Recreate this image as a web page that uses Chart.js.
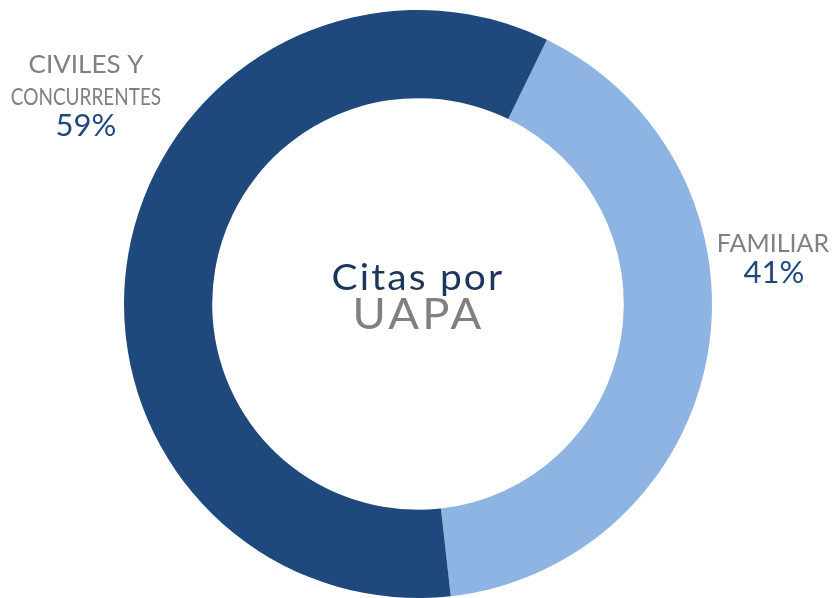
<!DOCTYPE html>
<html>
<head>
<meta charset="utf-8">
<title>Citas por UAPA</title>
<script src="https://cdn.jsdelivr.net/npm/chart.js@4.4.1/dist/chart.umd.min.js"></script>
<style>
  html, body { margin: 0; padding: 0; background: #fff; }
  #wrap { width: 836px; height: 598px; }
</style>
</head>
<body>
<div id="wrap"><canvas id="chart-uapa" width="836" height="598"></canvas></div>
<script>
// ─── Data ─────────────────────────────────────────────────────────────────────
const categories = ['FAMILIAR', 'CIVILES Y CONCURRENTES'];
const shares = [41, 59];
const sliceColors = ['#8EB4E3', '#1F497D'];
const centerTitle = ['Citas por', 'UAPA'];

const FONT = 'Lato, "Open Sans", sans-serif';

// draw text stretched horizontally (the original font is wider than Lato)
function wideText(ctx, txt, x, y, sx, spacing = 0) {
  ctx.save();
  ctx.translate(x + spacing / 2, y);
  ctx.scale(sx, 1);
  ctx.letterSpacing = spacing + 'px';
  ctx.fillText(txt, 0, 0);
  ctx.restore();
}

// labels + center title drawn on top of the doughnut
const labelsPlugin = {
  id: 'uapaLabels',
  afterDraw(chart) {
    const ctx = chart.ctx;
    const c = chart.getDatasetMeta(0).data[0];
    const cx = c.x, cy = c.y;
    ctx.save();
    ctx.textAlign = 'center';
    ctx.textBaseline = 'alphabetic';

    // center title
    ctx.fillStyle = '#1B365D';
    ctx.font = `36px ${FONT}`;
    wideText(ctx, centerTitle[0], cx - 1, cy - 14, 1.08, 2);
    ctx.fillStyle = '#808080';
    ctx.font = `42px ${FONT}`;
    wideText(ctx, centerTitle[1], cx - 1, cy + 25, 1.08, 3);

    // Civiles y concurrentes (left top)
    ctx.fillStyle = '#808080';
    ctx.font = `25px ${FONT}`;
    wideText(ctx, 'CIVILES Y', 86, 73, 1.04);
    ctx.font = `24px ${FONT}`;
    wideText(ctx, 'CONCURRENTES', 86, 105, 0.79);
    ctx.fillStyle = '#1F497D';
    ctx.font = `31px ${FONT}`;
    ctx.fillText(shares[1] + '%', 86, 136);

    // Familiar (right)
    ctx.fillStyle = '#808080';
    ctx.font = `25px ${FONT}`;
    ctx.fillText(categories[0], 773, 252);
    ctx.fillStyle = '#1F497D';
    ctx.font = `31px ${FONT}`;
    ctx.fillText(shares[0] + '%', 774, 283);

    ctx.restore();
  },
};

const chart = new Chart(document.getElementById('chart-uapa').getContext('2d'), {
  type: 'doughnut',
  data: {
    labels: categories,
    datasets: [{
      data: shares,
      backgroundColor: sliceColors,
      borderWidth: 0,
    }],
  },
  options: {
    responsive: false,
    animation: false,
    cutout: '70%',
    rotation: 26,
    layout: { padding: { top: 10, bottom: 0, left: 0, right: 0 } },
    plugins: {
      legend: { display: false },
      tooltip: { enabled: false },
    },
  },
  plugins: [labelsPlugin],
});
</script>
</body>
</html>
